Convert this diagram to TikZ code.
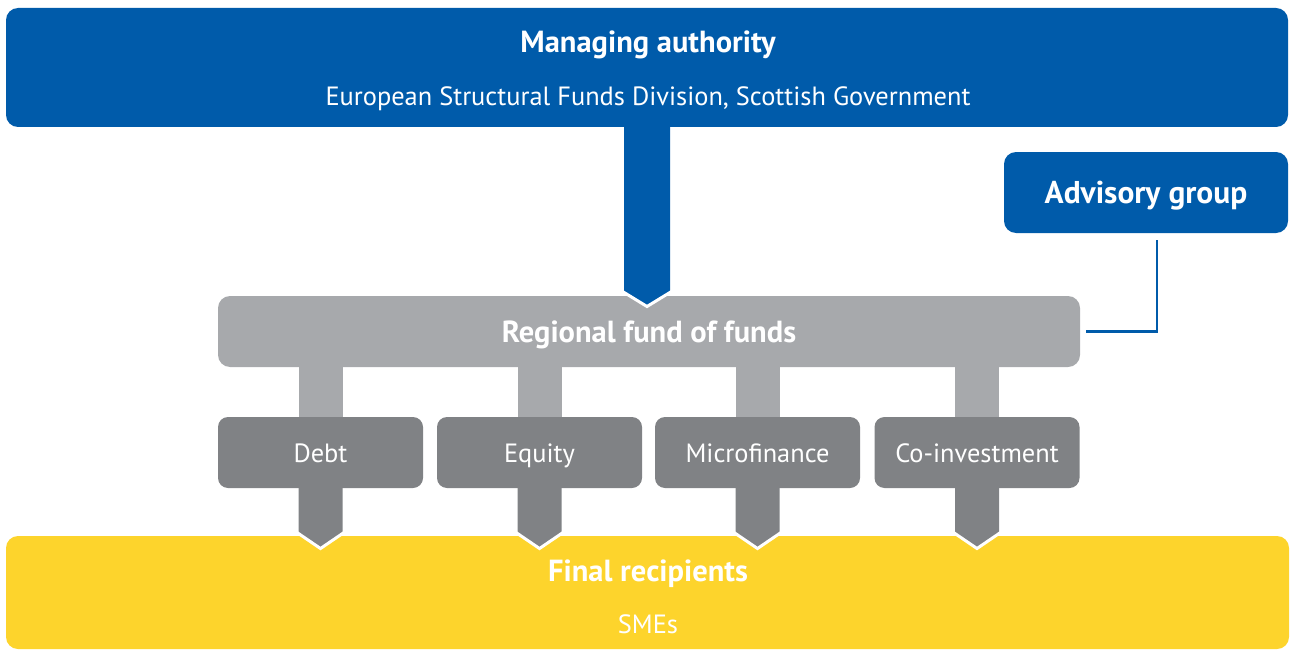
\documentclass[tikz,border=0pt]{standalone}
\usepackage{fontspec}
\setmainfont{PT Sans}
\usetikzlibrary{calc}
\definecolor{euBlue}{HTML}{005BAA}
\definecolor{fundGray}{HTML}{A7A9AC}
\definecolor{instrGray}{HTML}{808285}
\definecolor{smeYellow}{HTML}{FDD42C}
\tikzset{
  panel/.style={rounded corners=12pt, inner sep=0pt, outer sep=0pt},
  instr/.style={panel, rounded corners=10pt, fill=instrGray, minimum width=205pt, minimum height=71pt},
  lbl/.style={text=white, inner sep=0pt, anchor=base},
  boldlbl/.style={lbl, font=\fontsize{30.5}{34}\selectfont\bfseries},
  plainlbl/.style={lbl, font=\fontsize{26.4}{30}\selectfont},
}
\begin{document}
\begin{tikzpicture}[x=1pt, y=-1pt]
\useasboundingbox (0,0) rectangle (1290,650);

% boxes
\node[panel, fill=euBlue, minimum width=1282pt, minimum height=119pt] (ma) at (647,67.5) {};
\node[panel, fill=euBlue, minimum width=284pt, minimum height=81pt] (adv) at (1146,192.5) {};
\node[panel, fill=fundGray, minimum width=862pt, minimum height=71pt] (rff) at (649,331.5) {};
\node[instr] (debt) at (320.5,452.5) {};
\node[instr] (equity) at (539.5,452.5) {};
\node[instr] (micro) at (757.5,452.5) {};
\node[instr] (coinv) at (977,452.5) {};
\node[panel, fill=smeYellow, minimum width=1283pt, minimum height=113pt] (fr) at (647.5,592.5) {};

% stems from the fund of funds to each instrument
\foreach \n in {debt,equity,micro,coinv}{
  \fill[fundGray] ([xshift=-22pt]\n.north |- rff.south) rectangle ([xshift=22pt]\n.north);
}

% block arrow from the managing authority into the fund of funds
\fill[euBlue] ($(ma.south)+(-23,-2)$) -- ($(rff.north -| ma.south)+(-23,-4)$)
  -- ($(rff.north -| ma.south)+(0,9)$) -- ($(rff.north -| ma.south)+(23,-4)$)
  -- ($(ma.south)+(23,-2)$) -- cycle;
\draw[white, line width=3pt, line join=miter]
  ($(rff.north -| ma.south)+(-24.5,-4.5)$) -- ($(rff.north -| ma.south)+(0,10.5)$) -- ($(rff.north -| ma.south)+(24.5,-4.5)$);

% block arrows from each instrument into the final recipients
\foreach \n in {debt,equity,micro,coinv}{
  \fill[instrGray] ($(\n.south)+(-22,-2)$) -- ($(\n.south |- fr.north)+(-22,-3)$)
    -- ($(\n.south |- fr.north)+(0,11)$) -- ($(\n.south |- fr.north)+(22,-3)$)
    -- ($(\n.south)+(22,-2)$) -- cycle;
  \draw[white, line width=3pt, line join=miter]
    ($(\n.south |- fr.north)+(-23.5,-3.5)$) -- ($(\n.south |- fr.north)+(0,12.5)$) -- ($(\n.south |- fr.north)+(23.5,-3.5)$);
}

% advisory link
\draw[euBlue, line width=2.5pt, shorten <=7pt, shorten >=6pt]
  ([xshift=11pt]adv.south) |- (rff.east);

% labels
\node[boldlbl] (tma) at (648,53) {Managing authority};
\node[plainlbl] (tesf) at (648,106) {European Structural Funds Division, Scottish Government};
\node[boldlbl, font=\fontsize{31.5}{34}\selectfont\bfseries] (tadv) at (1146,203) {Advisory group};
\node[boldlbl] (trff) at (649,342) {Regional fund of funds};
\node[plainlbl] at ([yshift=-9.5pt]debt.center) {Debt};
\node[plainlbl] at ([yshift=-9.5pt]equity.center) {Equity};
\node[plainlbl] at ([yshift=-9.5pt]micro.center) {Microfinance};
\node[plainlbl] at ([yshift=-9.5pt]coinv.center) {Co-investment};
\node[boldlbl] (tfr) at (648,581) {Final recipients};
\node[plainlbl] (tsme) at (648,633) {SMEs};
\end{tikzpicture}
\end{document}
